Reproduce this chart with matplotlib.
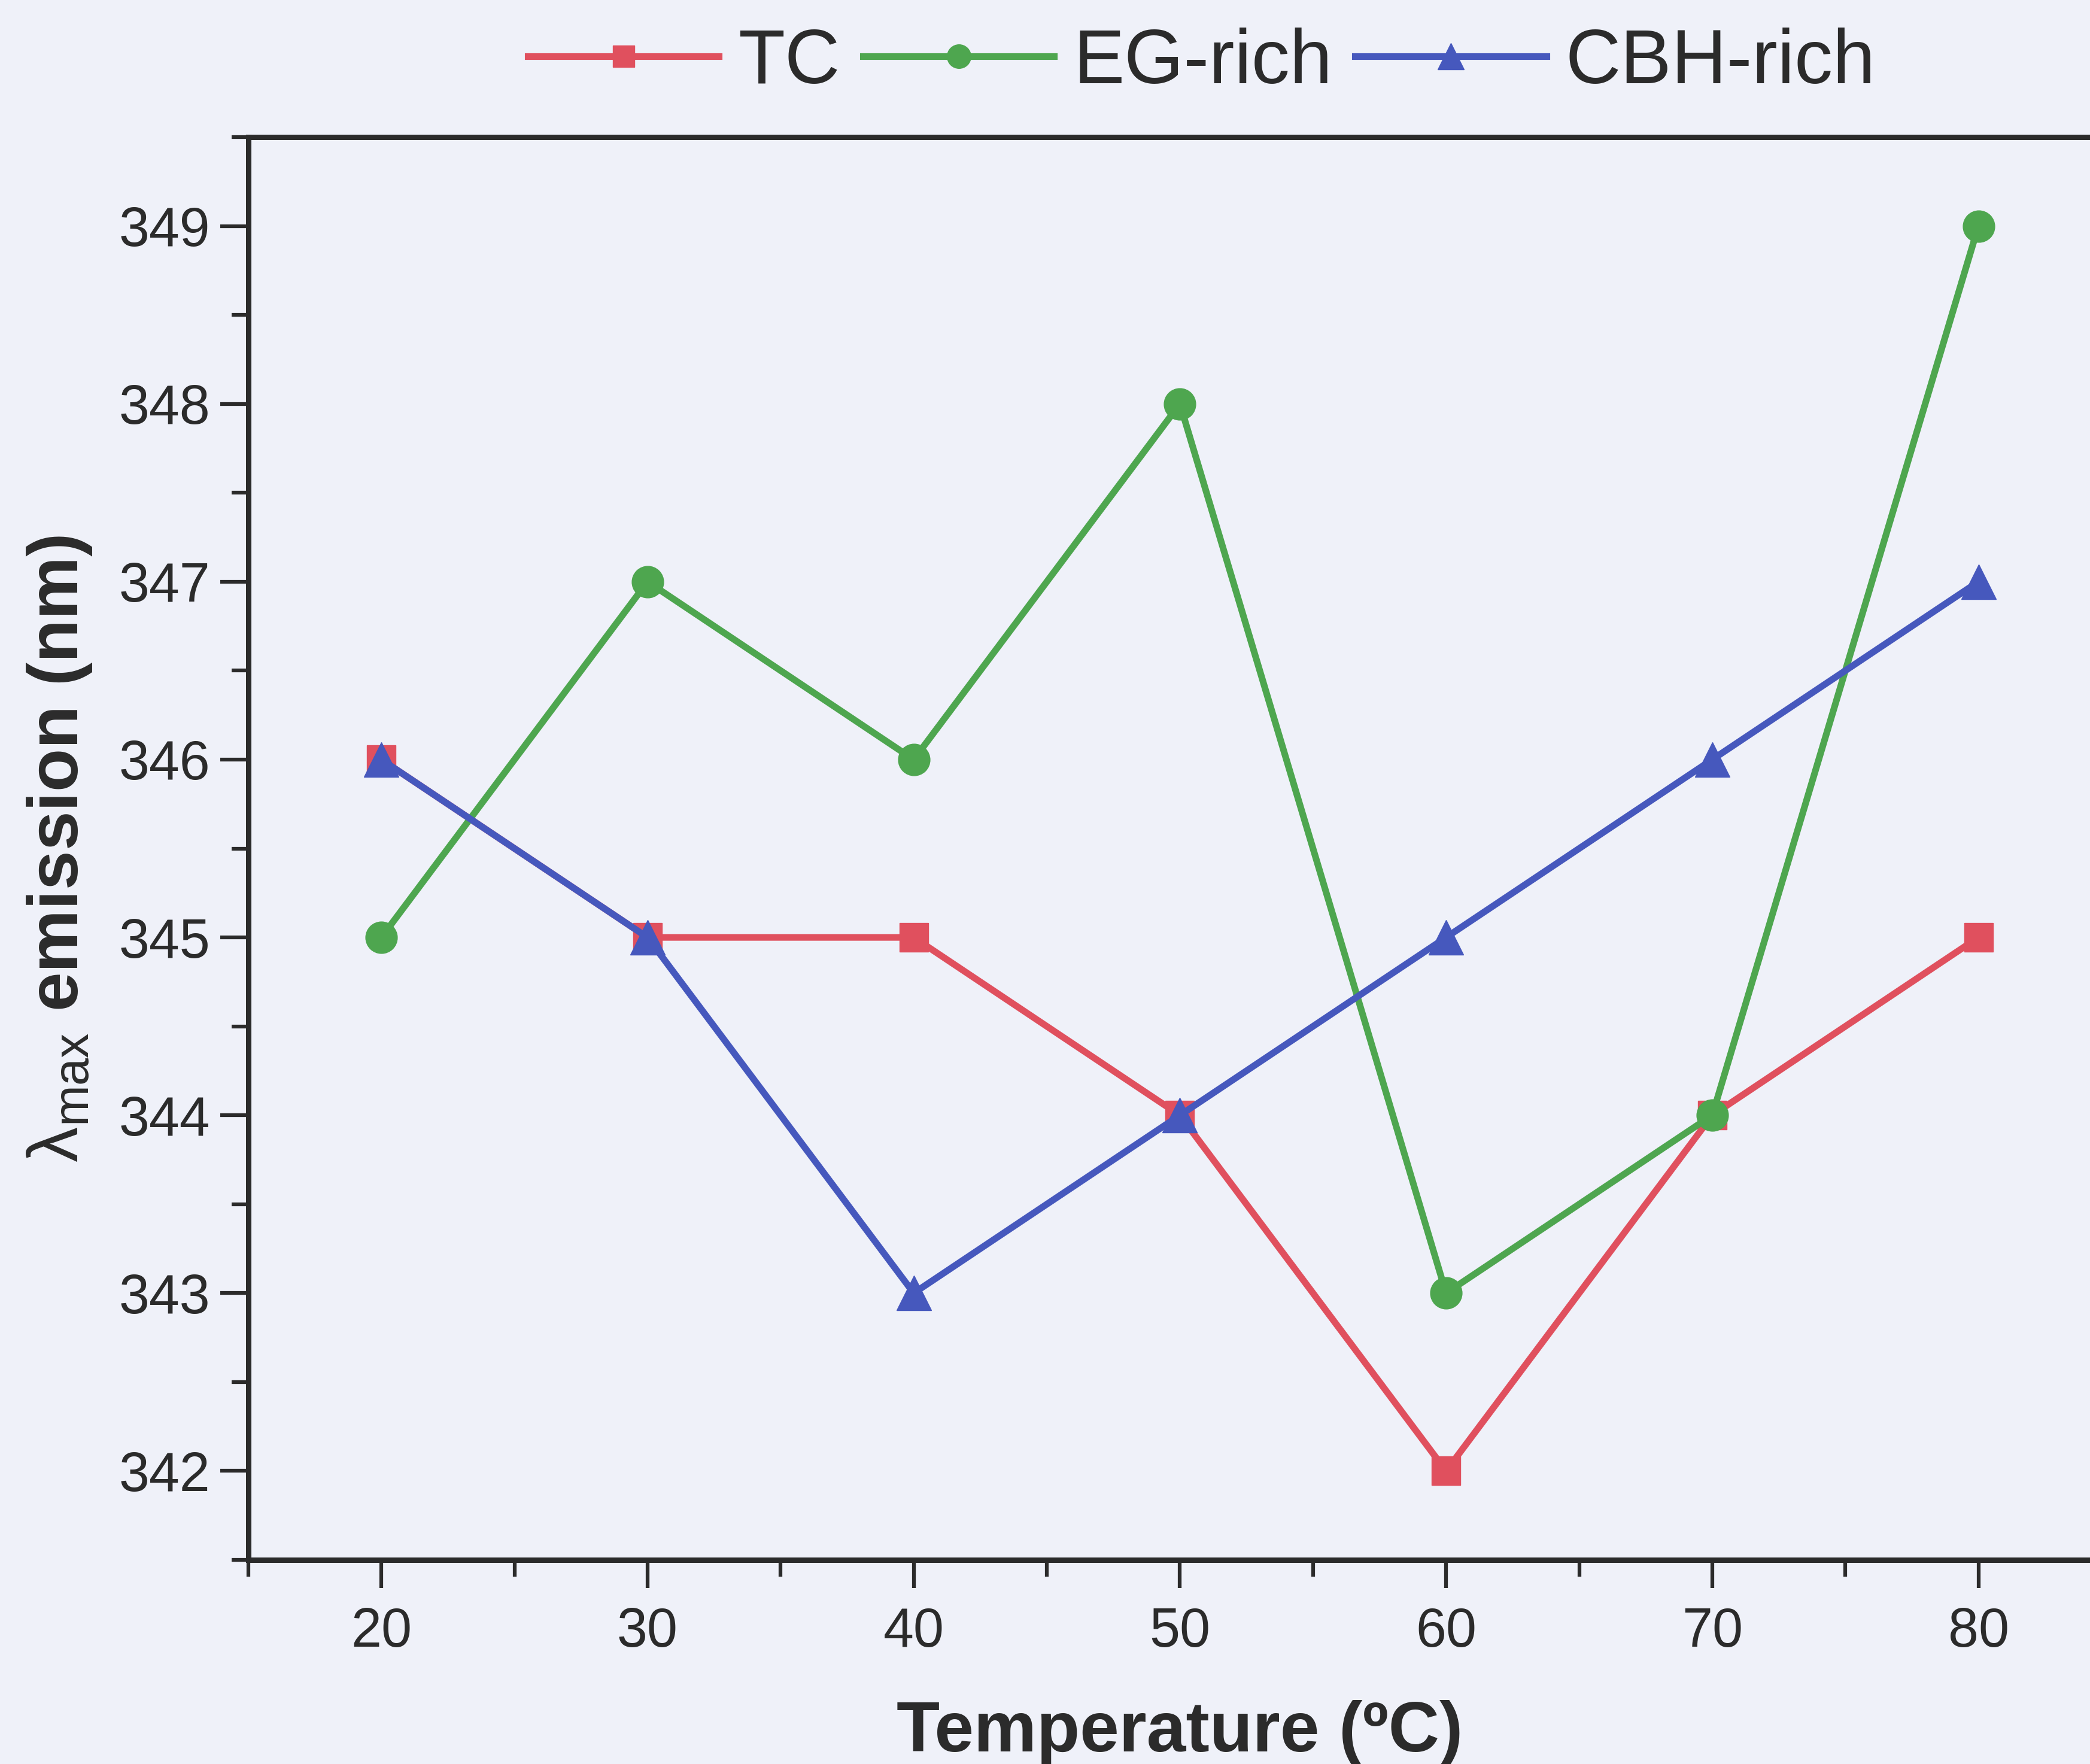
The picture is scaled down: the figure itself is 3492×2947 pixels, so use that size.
import matplotlib
matplotlib.use("Agg")
import matplotlib.pyplot as plt
from matplotlib.ticker import MultipleLocator

plt.rcParams['font.family'] = ['Liberation Sans', 'DejaVu Sans']
plt.rcParams['mathtext.fontset'] = 'custom'
plt.rcParams['mathtext.rm'] = 'Liberation Sans'
plt.rcParams['mathtext.it'] = 'Liberation Sans:italic'
plt.rcParams['mathtext.bf'] = 'Liberation Sans:bold'

temperature = [20, 30, 40, 50, 60, 70, 80]
tc = [346, 345, 345, 344, 342, 344, 345]
eg_rich = [345, 347, 346, 348, 343, 344, 349]
cbh_rich = [346, 345, 343, 344, 345, 346, 347]
series_names = ["TC", "EG-rich", "CBH-rich"]

bg = '#eff1f9'
txt = '#2b2b2b'
red = '#e0505e'
green = '#4ea64f'
blue = '#4658bd'

fig = plt.figure(figsize=(34.92, 29.47), dpi=100, facecolor=bg)
ax = fig.add_axes([0.1188, 0.1157, 0.8915, 0.8066])
ax.set_facecolor(bg)

lw = 8
ax.plot(temperature, tc, color=red, lw=lw, marker='s', ms=34, label=series_names[0], zorder=3)
ax.plot(temperature, eg_rich, color=green, lw=lw, marker='o', ms=38, label=series_names[1], zorder=4)
ax.plot(temperature, cbh_rich, color=blue, lw=lw, marker='^', ms=42, label=series_names[2], zorder=5)

ax.set_xlim(15, 85)
ax.set_ylim(341.5, 349.5)
ax.xaxis.set_major_locator(MultipleLocator(10))
ax.xaxis.set_minor_locator(MultipleLocator(5))
ax.yaxis.set_major_locator(MultipleLocator(1))
ax.yaxis.set_minor_locator(MultipleLocator(0.5))

for s in ['top', 'left', 'bottom', 'right']:
    ax.spines[s].set_linewidth(6.5)
    ax.spines[s].set_color(txt)

ax.tick_params(axis='both', which='major', direction='out', length=34, width=4.5,
               color=txt, labelcolor=txt, labelsize=66)
ax.tick_params(axis='both', which='minor', direction='out', length=20, width=4.5, color=txt)
ax.tick_params(axis='x', which='major', pad=22)
ax.tick_params(axis='y', which='major', pad=12)
ax.tick_params(top=False, right=False, which='both')

ax.set_xlabel('Temperature (ºC)', fontsize=85, fontweight='bold', color=txt)
ax.xaxis.set_label_coords(0.5, -0.1216)
ax.xaxis.label.set_va('center')
ax.set_ylabel(r'$\mathrm{λ}_{\mathrm{max}}\ \mathbf{emission\ (nm)}$', fontsize=85, color=txt)
ax.yaxis.set_label_coords(-0.1012, 0.5)
ax.yaxis.label.set_va('center')

leg = fig.legend(loc='center', bbox_to_anchor=(0.575, 0.964), ncol=3, frameon=False,
                 fontsize=92, handlelength=2.5, handletextpad=0.25, columnspacing=0.3,
                 markerscale=0.75)
for t in leg.get_texts():
    t.set_color(txt)

fig.savefig('out.png', dpi=100, facecolor=bg)
